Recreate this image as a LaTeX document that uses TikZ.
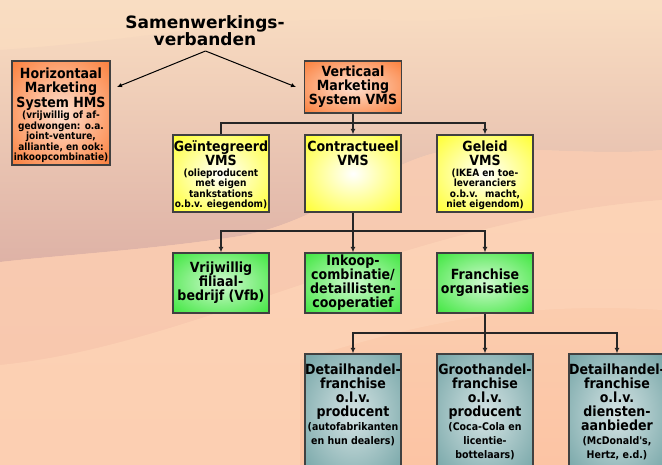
\documentclass[tikz,border=0pt]{standalone}
\usepackage{fontspec}
\usepackage{xcolor}
\usepackage{tikz}
\usetikzlibrary{arrows.meta}

\IfFontExistsTF{DejaVu Sans Condensed}
  {\newfontfamily\boxfont{DejaVu Sans Condensed}}
  {\newfontfamily\boxfont{DejaVu Sans}[FakeStretch=0.88]}
\newfontfamily\titlefont{DejaVu Sans}

\definecolor{bgtop}{RGB}{249,221,194}
\definecolor{bgbot}{RGB}{252,196,164}
\definecolor{bgtan}{RGB}{242,214,192}
\definecolor{bgpink}{RGB}{222,178,166}
\definecolor{bgmid}{RGB}{247,200,176}
\definecolor{bglight}{RGB}{253,212,184}
\definecolor{boxline}{RGB}{64,64,64}
\definecolor{hmsorange}{RGB}{250,104,24}
\definecolor{vmsyellow}{RGB}{255,255,0}
\definecolor{vfbgreen}{RGB}{28,226,28}
\definecolor{frteal}{RGB}{88,146,148}

\pgfdeclareradialshading{glowhms}{\pgfpoint{0bp}{0bp}}{color(0bp)=(white!80!hmsorange); color(44bp)=(hmsorange); color(50bp)=(hmsorange)}
\pgfdeclareradialshading{glowvms}{\pgfpoint{0bp}{0bp}}{color(0bp)=(white); color(44bp)=(vmsyellow); color(50bp)=(vmsyellow)}
\pgfdeclareradialshading{glowvfb}{\pgfpoint{0bp}{0bp}}{color(0bp)=(white!80!vfbgreen); color(44bp)=(vfbgreen); color(50bp)=(vfbgreen)}
\pgfdeclareradialshading{glowfr}{\pgfpoint{0bp}{0bp}}{color(0bp)=(white!75!frteal); color(46bp)=(frteal); color(50bp)=(frteal)}

\newcommand{\headsize}{\fontsize{14}{14.5}\selectfont}
\newcommand{\notesize}{\fontsize{10}{10.5}\selectfont}
\newcommand{\boxtext}[3]{\parbox[c][#1][t]{96pt}{\centering\vspace*{#2}#3\par}}

\begin{document}
\begin{tikzpicture}[x=1pt, y=-1pt,
  box/.style={draw=boxline, line width=1.3pt, inner sep=0pt, minimum width=96pt, align=center, font=\boxfont\bfseries},
  hmsbox/.style={box, shading=glowhms},
  vmsbox/.style={box, shading=glowvms, minimum height=77pt},
  vfbbox/.style={box, shading=glowvfb, minimum height=60pt, font=\boxfont\bfseries\fontsize{14}{14}\selectfont},
  frbox/.style={box, shading=glowfr, minimum height=120pt},
  link/.style={draw=black!85, line width=1.2pt},
  arrowlink/.style={link, -{Latex[length=5.5pt,width=5pt]}}]
\clip (0,0) rectangle (662,465);
% background
\shade[top color=bgtop, bottom color=bgbot] (0,0) rectangle (662,465);
\shade[top color=bgtop, bottom color=bgpink] (0,50) .. controls (150,40) and (250,15) .. (380,20) .. controls (480,25) and (560,5) .. (662,12) -- (662,150) .. controls (600,156) and (520,146) .. (450,150) .. controls (380,160) and (330,220) .. (240,236) .. controls (150,250) and (60,255) .. (0,262) -- cycle;
\fill[bgmid, opacity=0.7] (662,150) .. controls (600,156) and (520,146) .. (450,150) .. controls (380,160) and (330,220) .. (240,236) .. controls (150,250) and (60,255) .. (0,262) -- (0,365) .. controls (200,345) and (400,220) .. (662,200) -- cycle;
\fill[bglight, opacity=0.7] (0,365) .. controls (200,345) and (400,220) .. (662,200) -- (662,310) .. controls (500,300) and (400,330) .. (300,360) -- (300,465) -- (0,465) -- cycle;

% top level
\node[font=\titlefont\bfseries\fontsize{17}{17}\selectfont, align=center] (title) at (205,31) {Samenwerkings-\\verbanden};
\coordinate (apex) at (205.5,51);
\coordinate (toleft) at (117,87);
\coordinate (toright) at (296,87);
\draw[line width=1pt, -{Latex[length=5pt,width=4.5pt]}] (apex) -- (toleft);
\draw[line width=1pt, -{Latex[length=5pt,width=4.5pt]}] (apex) -- (toright);

\node[hmsbox, minimum width=98pt, minimum height=104pt] (hms) at (61,113) {\boxtext{104pt}{6.4pt}{\headsize Horizontaal\\Marketing\\System HMS\par\notesize (vrijwillig of af-\\gedwongen: o.a.\\joint-venture,\\alliantie, en ook:\\inkoopcombinatie)}};
\node[hmsbox, minimum width=97pt, minimum height=52pt, font=\boxfont\bfseries\fontsize{14}{14}\selectfont] (vms) at (353,87) {Verticaal\\Marketing\\System VMS};

% second level
\node[vmsbox] (geint) at (221,173.5) {\boxtext{77pt}{5.4pt}{\headsize Geïntegreerd\\VMS\par\notesize (olieproducent\\met eigen\\tankstations\\o.b.v. eiegendom)}};
\node[vmsbox] (contr) at (353,173.5) {\boxtext{77pt}{5.4pt}{\headsize Contractueel\\VMS}};
\node[vmsbox] (geleid) at (485,173.5) {\boxtext{77pt}{5.4pt}{\headsize Geleid\\VMS\par\notesize (IKEA en toe-\\leveranciers\\o.b.v.~ macht,\\niet eigendom)}};

% third level
\node[vfbbox] (vfb) at (221,283) {Vrijwillig\\filiaal-\\bedrijf (Vfb)};
\node[vfbbox] (inkoop) at (353,283) {Inkoop-\\combinatie/\\detaillisten-\\cooperatief};
\node[vfbbox] (franch) at (485,283) {Franchise\\organisaties};

% fourth level
\node[frbox] (detprod) at (353,414) {\boxtext{120pt}{9.4pt}{\fontsize{14}{14}\selectfont Detailhandel-\\franchise\\o.l.v.\\producent\par\fontsize{10.5}{14}\selectfont (autofabrikanten\\en hun dealers)}};
\node[frbox] (grootprod) at (485,414) {\boxtext{120pt}{9.4pt}{\fontsize{14}{14}\selectfont Groothandel-\\franchise\\o.l.v.\\producent\par\fontsize{10.5}{14}\selectfont (Coca-Cola en\\licentie-\\bottelaars)}};
\node[frbox] (detdienst) at (617,414) {\boxtext{120pt}{9.4pt}{\fontsize{14}{14}\selectfont Detailhandel-\\franchise\\o.l.v.\\diensten-\\aanbieder\par\fontsize{10.5}{14}\selectfont (McDonald's,\\Hertz, e.d.)}};

% connectors
\coordinate (j1) at (353,123);
\coordinate (j2) at (353,231);
\coordinate (j3) at (485,333);
\draw[link] (vms.south) -- (j1);
\draw[arrowlink] (j1) -- (contr.north);
\draw[link] (j1) -| (geint.north);
\draw[arrowlink] (j1) -| (geleid.north);
\draw[link] (contr.south) -- (j2);
\draw[arrowlink] (j2) -- (inkoop.north);
\draw[arrowlink] (j2) -| (vfb.north);
\draw[arrowlink] (j2) -| (franch.north);
\draw[link] (franch.south) -- (j3);
\draw[arrowlink] (j3) -- (grootprod.north);
\draw[arrowlink] (j3) -| (detprod.north);
\draw[arrowlink] (j3) -| (detdienst.north);
\end{tikzpicture}
\end{document}
